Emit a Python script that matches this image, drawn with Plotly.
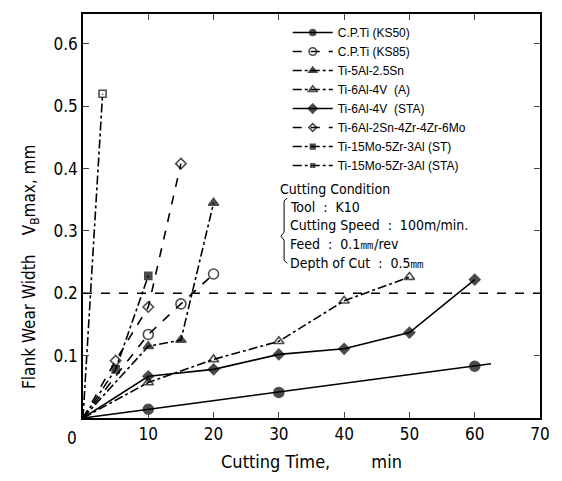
import plotly.graph_objects as go

# ---- data ----
ks50_x = [0, 10, 30, 60, 62.5]
ks50_y = [0, 0.014, 0.041, 0.083, 0.087]
ks85_x = [0, 10, 15, 20]
ks85_y = [0, 0.134, 0.183, 0.231]
sn_x = [0, 10, 15, 20]
sn_y = [0, 0.115, 0.125, 0.345]
v4a_x = [0, 10, 20, 30, 40, 50]
v4a_y = [0, 0.057, 0.094, 0.123, 0.188, 0.226]
v4sta_x = [0, 10, 20, 30, 40, 50, 60]
v4sta_y = [0, 0.067, 0.078, 0.102, 0.111, 0.137, 0.222]
mo6_x = [0, 5, 10, 15]
mo6_y = [0, 0.092, 0.178, 0.408]
st_x = [0, 5, 10]
st_y = [0, 0.078, 0.228]
sta_x = [0, 3]
sta_y = [0, 0.52]

names = ["C.P.Ti (KS50)", "C.P.Ti (KS85)", "Ti-5Al-2.5Sn", "Ti-6Al-4V  (A)",
         "Ti-6Al-4V  (STA)", "Ti-6Al-2Sn-4Zr-4Zr-6Mo", "Ti-15Mo-5Zr-3Al (ST)",
         "Ti-15Mo-5Zr-3Al (STA)"]
x_ticks = [10, 20, 30, 40, 50, 60, 70]
y_ticks = [0.1, 0.2, 0.3, 0.4, 0.5, 0.6]
limit_y = 0.2

conditions = ["Tool  :  K10", "Cutting Speed  :  100m/min.", "Feed  :  0.1㎜/rev", "Depth of Cut  :  0.5㎜"]

series = [
    (ks50_x, ks50_y, "solid", "circle", 10),
    (ks85_x, ks85_y, "dash", "circle-open", 10),
    (sn_x, sn_y, "dashdot", "triangle-up", 9),
    (v4a_x, v4a_y, "dashdot", "triangle-up-open", 9),
    (v4sta_x, v4sta_y, "solid", "diamond", 8),
    (mo6_x, mo6_y, "dash", "diamond-open", 8),
    (st_x, st_y, "dashdot", "square", 7),
    (sta_x, sta_y, "dashdot", "square-open", 7),
]

FONT = "DejaVu Sans Condensed, Liberation Sans Narrow, Liberation Sans, sans-serif"
LFONT = "Liberation Sans, Arial, sans-serif"

fig = go.Figure()
for (xs, ys, dash, sym, size), nm in zip(series, names):
    sizes = [0] + [size] * (len(xs) - 1)
    if nm == names[0]:
        sizes[-1] = 0
    fig.add_trace(go.Scatter(
        x=xs, y=ys, name=nm, mode="lines+markers",
        line=dict(color="black", width=1.6, dash=dash),
        marker=dict(symbol=sym, size=sizes, color="black",
                    line=dict(color="black", width=1.6)),
    ))

fig.add_shape(type="line", xref="paper", x0=0, x1=1, yref="y", y0=limit_y, y1=limit_y,
              line=dict(color="black", width=1.5, dash="dash"))

fig.add_annotation(xref="paper", yref="paper", x=0.426, y=0.566, xanchor="left", yanchor="middle",
                   text="Cutting Condition", showarrow=False,
                   font=dict(family=FONT, size=14, color="black"))
for i, t in enumerate(conditions):
    fig.add_annotation(xref="paper", yref="paper", x=0.449, y=0.523 - i * 0.0465,
                       xanchor="left", yanchor="middle", text=t, showarrow=False,
                       font=dict(family=FONT, size=14, color="black"))
# brace
fig.add_shape(type="path", xref="paper", yref="paper",
              path="M 0.447 0.545 L 0.440 0.537 L 0.440 0.46 L 0.433 0.45 L 0.440 0.44 L 0.440 0.39 L 0.447 0.383",
              line=dict(color="black", width=1))

# origin label
fig.add_annotation(xref="paper", yref="paper", x=-0.024, y=-0.05, xanchor="center", yanchor="middle",
                   text="0", showarrow=False, font=dict(family=FONT, size=17, color="black"))

# y-axis title
fig.add_annotation(xref="paper", yref="paper", x=-0.115, y=0.375, xanchor="center", yanchor="middle",
                   textangle=-90, text="Flank Wear Width    V<sub>B</sub>max, mm", showarrow=False,
                   font=dict(family=FONT, size=17, color="black"))

fig.update_layout(
    width=562, height=481,
    margin=dict(l=83, r=12, t=12, b=49),
    paper_bgcolor="white", plot_bgcolor="white",
    font=dict(family=FONT, size=14, color="black"),
    showlegend=True,
    legend=dict(x=0.448, y=0.99, xanchor="left", yanchor="top",
                bgcolor="rgba(0,0,0,0)", font=dict(family=LFONT, size=12), tracegroupgap=0,
                itemwidth=40),
    xaxis=dict(range=[0, 70], tickvals=x_ticks, ticks="inside", ticklen=6,
               showline=True, linecolor="black", linewidth=1.5, mirror="ticks",
               showgrid=False, zeroline=False, tickfont=dict(size=17),
               title=dict(text="Cutting Time,        min", font=dict(size=18), standoff=12)),
    yaxis=dict(range=[0, 0.648], tickvals=y_ticks, tickformat=".1f", ticks="inside", ticklen=6,
               showline=True, linecolor="black", linewidth=1.5, mirror="ticks",
               showgrid=False, zeroline=False, tickfont=dict(size=17)),
)

fig.write_html("out.html", config={"displayModeBar": False},
               post_script="document.body.style.margin='0';")
